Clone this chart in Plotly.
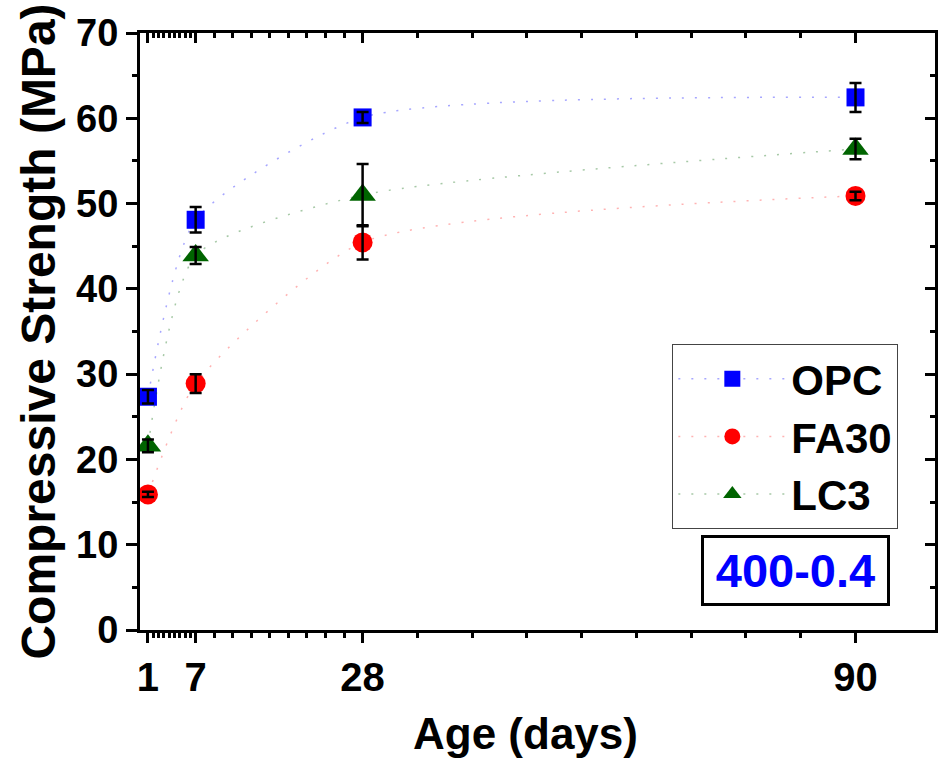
import plotly.graph_objects as go

# ---- data ----
ages = [1, 7, 28, 90]
tick_labels = ["1", "7", "28", "90"]
opc = [27.35, 48.1, 60.1, 62.45]
opc_err = [0.8, 1.5, 0.65, 1.7]
fa30 = [15.9, 28.9, 45.45, 50.9]
fa30_err = [0.3, 1.1, 2.0, 0.5]
lc3 = [21.6, 43.9, 51.0, 56.4]
lc3_err = [0.75, 1.0, 3.65, 1.2]
y_ticks = [0, 10, 20, 30, 40, 50, 60, 70]

series = [
    ("OPC", opc, opc_err, "#0000FF", "rgba(0,0,255,0.35)", "square", 18),
    ("FA30", fa30, fa30_err, "#FF0000", "rgba(255,0,0,0.30)", "circle", 20),
    ("LC3", lc3, lc3_err, "#006400", "rgba(0,100,0,0.35)", "triangle-up", 23),
]

# minor ticks: 8 per interval between custom major ticks
minor_x = []
for a, b in zip(ages[:-1], ages[1:]):
    step = (b - a) / 9
    minor_x += [a + step * k for k in range(1, 9)]

FONT = "Liberation Sans, Arial, sans-serif"

fig = go.Figure()
for name, vals, err, col, lcol, sym, sz in series:
    fig.add_trace(go.Scatter(
        x=ages, y=vals, name=name, mode="lines+markers",
        line=dict(color=lcol, width=1.5, dash="2px,11px", shape="spline", smoothing=0.6),
        marker=dict(symbol=sym, size=sz, color=col, line=dict(width=0)),
    ))
for name, vals, err, col, lcol, sym, sz in series:
    fig.add_trace(go.Scatter(
        x=ages, y=vals, mode="markers", showlegend=False, hoverinfo="skip",
        marker=dict(size=1, color="rgba(0,0,0,0)"),
        error_y=dict(type="data", array=err, visible=True, color="black",
                     thickness=2.5, width=6),
    ))

axis_common = dict(showline=True, linecolor="black", linewidth=3,
                   showgrid=False, zeroline=False, tickcolor="black", tickwidth=3)

fig.update_layout(
    width=938, height=759,
    margin=dict(l=140, r=3, t=33, b=129),
    paper_bgcolor="white", plot_bgcolor="white",
    font=dict(family=FONT, color="black"),
    showlegend=True,
    xaxis=dict(range=[0, 100], tickmode="array", tickvals=ages, ticktext=tick_labels,
               ticks="outside", ticklen=10,
               minor=dict(tickmode="array", tickvals=minor_x, ticks="outside",
                          ticklen=5, tickwidth=2.5, tickcolor="black"),
               tickfont=dict(size=40, weight="bold", family=FONT),
               **axis_common),
    yaxis=dict(range=[0, 70], tickmode="array", tickvals=y_ticks,
               ticks="outside", ticklen=11,
               minor=dict(dtick=5, ticks="outside", ticklen=5, tickwidth=2.5, tickcolor="black"),
               tickfont=dict(size=38, weight="bold", family=FONT),
               title=dict(text="Compressive Strength (MPa)",
                          font=dict(size=48, weight="bold", family=FONT), standoff=6),
               **axis_common),
    xaxis2=dict(overlaying="x", side="top", anchor="y", range=[0, 100],
                tickmode="array", tickvals=ages, showticklabels=False,
                ticks="inside", ticklen=10,
                minor=dict(tickmode="array", tickvals=minor_x, ticks="inside",
                           ticklen=5, tickwidth=2.5, tickcolor="black"),
                **axis_common),
    yaxis2=dict(overlaying="y", side="right", anchor="x", range=[0, 70],
                tickmode="array", tickvals=y_ticks, showticklabels=False,
                ticks="inside", ticklen=10,
                minor=dict(dtick=5, ticks="inside", ticklen=5, tickwidth=2.5, tickcolor="black"),
                **axis_common),
    legend=dict(x=0.6696, y=0.479, xanchor="left", yanchor="top",
                bgcolor="white", bordercolor="#444", borderwidth=1,
                font=dict(size=42, weight="bold", family=FONT),
                itemsizing="trace", itemwidth=108, tracegroupgap=0),
)

fig.add_trace(go.Scatter(x=[None], y=[None], xaxis="x2", yaxis="y2",
                         showlegend=False, hoverinfo="skip"))

# x-axis title (placed slightly left of centre, as in the original)
fig.add_annotation(
    xref="paper", yref="paper", x=0.485, y=-0.173,
    xanchor="center", yanchor="middle", showarrow=False,
    text="Age (days)", font=dict(size=44, weight="bold", family=FONT, color="black"),
)

fig.add_annotation(
    xref="paper", yref="paper", x=0.8247, y=0.0997,
    xanchor="center", yanchor="middle",
    text="400-0.4", showarrow=False,
    font=dict(size=47, color="#0000FF", weight="bold", family=FONT),
    bordercolor="black", borderwidth=3, borderpad=0,
    width=183, height=65, bgcolor="white",
)

fig.write_html("out.html")
